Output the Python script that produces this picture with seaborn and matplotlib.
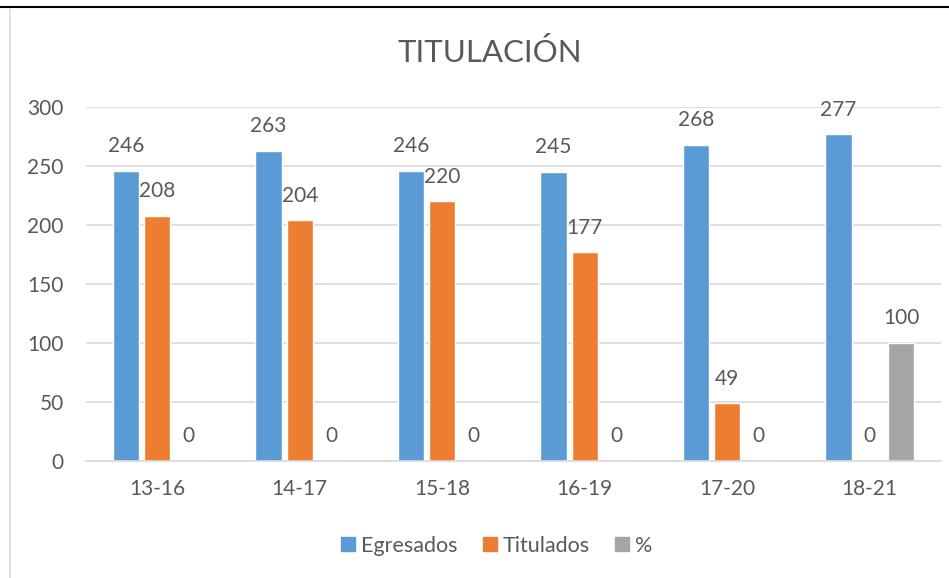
import matplotlib
matplotlib.use('Agg')

import pandas as pd
import matplotlib.pyplot as plt
import seaborn as sns
from matplotlib.lines import Line2D

# datos del grafico
periodos = ["13-16", "14-17", "15-18", "16-19", "17-20", "18-21"]
egresados = [246, 263, 246, 245, 268, 277]
titulados = [208, 204, 220, 177, 49, 0]
porcentaje = [0, 0, 0, 0, 0, 100]
series = ["Egresados", "Titulados", "%"]
colores = ["#5b9bd5", "#ed7d31", "#a5a5a5"]
y_ticks = [0, 50, 100, 150, 200, 250, 300]

texto = "#595959"
rejilla = "#d9d9d9"

df = pd.DataFrame({
    "periodo": periodos * 3,
    "valor": egresados + titulados + porcentaje,
    "serie": [s for s in series for _ in periodos],
})

sns.set_style("white")
plt.rcParams['font.family'] = ['Lato', 'DejaVu Sans']

fig = plt.figure(figsize=(9.49, 5.78), dpi=100)
ax = fig.add_axes([86 / 949, 1 - 461 / 578, 855 / 949, 354 / 578])

sns.barplot(
    data=df, x="periodo", y="valor", hue="serie",
    order=periodos, hue_order=series, palette=colores,
    width=0.66, gap=0.16, saturation=1, ax=ax, legend=False,
)

for cont in ax.containers:
    ax.bar_label(cont, fmt="%d", padding=10.5, fontsize=15, color=texto)

ax.set_ylim(0, 300)
ax.set_xlim(-0.5, 5.5)
ax.set_yticks(y_ticks)
ax.yaxis.grid(True, color=rejilla, linewidth=1.2)
ax.set_axisbelow(True)
for s in ["top", "right", "left"]:
    ax.spines[s].set_visible(False)
ax.spines["bottom"].set_color(rejilla)
ax.spines["bottom"].set_linewidth(1.2)
ax.tick_params(axis="y", length=0, pad=16, labelsize=15, labelcolor=texto)
ax.tick_params(axis="x", length=0, pad=13, labelsize=15, labelcolor=texto)
ax.set_xlabel("")
ax.set_ylabel("")

fig.text(490 / 949, 1 - 52 / 578, "TITULACIÓN", ha="center", va="center",
         fontsize=22.5, color=texto)

handles = [Line2D([], [], marker="s", linestyle="", markersize=10,
                  markerfacecolor=c, markeredgecolor=c) for c in colores]
fig.legend(handles, series, loc="center", bbox_to_anchor=(494 / 949, 1 - 546 / 578),
           ncol=3, frameon=False, fontsize=15.5, handletextpad=0.0,
           handlelength=1.2, columnspacing=0.9, labelcolor=texto)

# marco superior e izquierdo
fig.add_artist(Line2D([0, 1], [1 - 7 / 578] * 2, color="black", linewidth=1.5))
fig.add_artist(Line2D([10 / 949] * 2, [0, 1 - 9 / 578], color=rejilla, linewidth=1.2))

fig.savefig("out.png", dpi=100)
plt.close(fig)
